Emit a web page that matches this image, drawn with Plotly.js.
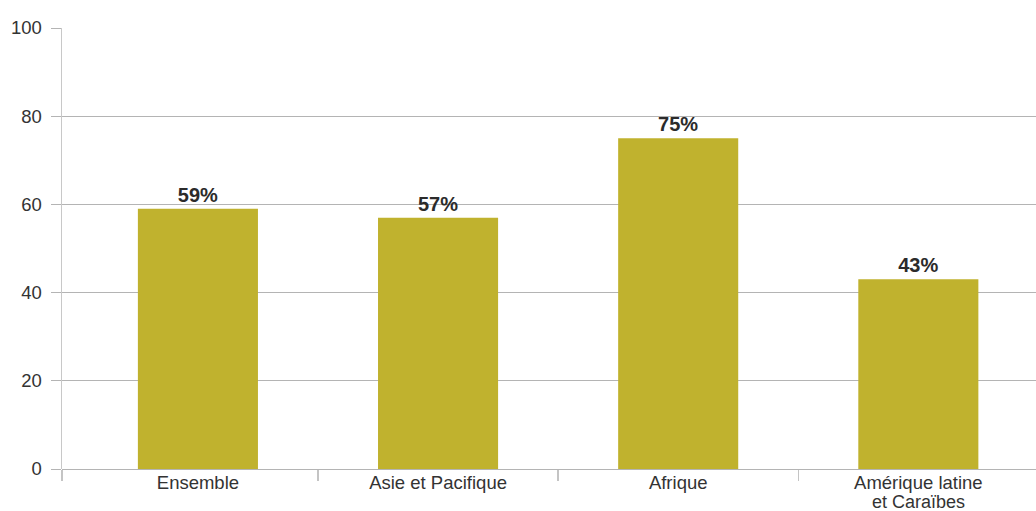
<!DOCTYPE html>
<html>
<head>
<meta charset="utf-8">
<script src="https://cdn.plot.ly/plotly-3.0.1.min.js"></script>
<style>html,body{margin:0;padding:0;background:#fff;}#chart{width:1036px;height:511px;}</style>
</head>
<body>
<div id="chart"></div>
<script>
const categories = ["Ensemble", "Asie et Pacifique", "Afrique", "Amérique latine"];
const categoryLine2 = ["", "", "", "et Caraïbes"];
const values = [59, 57, 75, 43];
const labels = ["59%", "57%", "75%", "43%"];
const yTicks = [0, 20, 40, 60, 80, 100];

const idx = categories.map((c, i) => i);
const xRange = [-0.566, 3.49];
const FONT = 'Liberation Sans, Arial, Helvetica, sans-serif';

const trace = {
  type: 'bar',
  x: idx,
  y: values,
  width: 0.5,
  marker: {color: '#C0B22E', line: {width: 0}},
  text: labels,
  textposition: 'outside',
  texttemplate: '<b>%{text}</b>',
  textfont: {family: FONT, size: 20, color: '#2b2b2b'},
  cliponaxis: false,
  hoverinfo: 'none'
};
const helper = {type: 'scatter', x: [xRange[0]], y: [0], xaxis: 'x2', mode: 'markers', marker: {opacity: 0}, hoverinfo: 'none', showlegend: false};

const annotations = categoryLine2.map((t, i) => ({
  x: i, xref: 'x', y: 0, yref: 'y', text: t, showarrow: false,
  yanchor: 'top', yshift: -22, borderpad: 0, font: {family: FONT, size: 18, color: '#333333'}
})).filter(a => a.text);

const layout = {
  width: 1036, height: 511,
  margin: {l: 62, r: 0, t: 28, b: 42},
  paper_bgcolor: '#ffffff', plot_bgcolor: '#ffffff',
  showlegend: false,
  font: {family: FONT, color: '#333333', size: 18},
  annotations: annotations,
  xaxis: {
    range: xRange,
    tickmode: 'array', tickvals: idx, ticktext: categories,
    ticks: '', showgrid: false, zeroline: false, showline: false,
    ticklabelstandoff: 0,
    tickfont: {size: 18.5, color: '#333333'}
  },
  xaxis2: {
    overlaying: 'x', matches: 'x', range: xRange, anchor: 'y',
    tickmode: 'array', tickvals: [xRange[0], 0.5, 1.5, 2.5],
    ticks: 'outside', ticklen: 11, tickwidth: 1.5, tickcolor: '#c4c4c4',
    showticklabels: false, showgrid: false, zeroline: false, showline: false
  },
  yaxis: {
    range: [0, 100],
    tickmode: 'array', tickvals: yTicks,
    ticks: 'outside', ticklen: 10, tickcolor: '#b4b4b4', tickwidth: 1,
    showgrid: true, gridcolor: '#b4b4b4', gridwidth: 1,
    zeroline: true, zerolinecolor: '#b4b4b4', zerolinewidth: 1,
    showline: true, linecolor: '#c8c8c8', linewidth: 1.5,
    ticklabelstandoff: 5,
    tickfont: {size: 18.5, color: '#333333'}
  }
};

Plotly.newPlot('chart', [trace, helper], layout, {displayModeBar: false, staticPlot: true});
</script>
</body>
</html>
